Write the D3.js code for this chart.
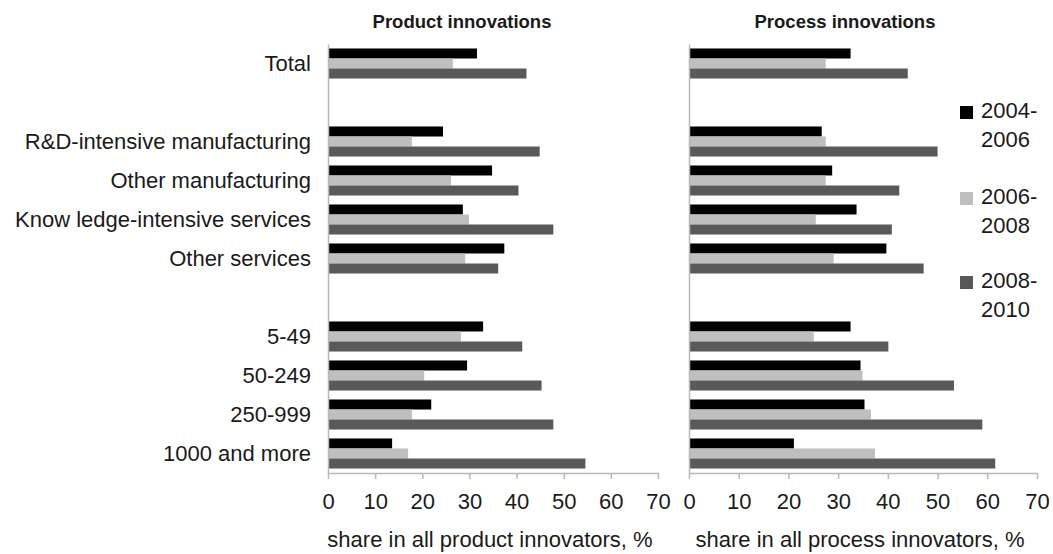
<!DOCTYPE html>
<html>
<head>
<meta charset="utf-8">
<script src="https://cdn.jsdelivr.net/npm/d3@7"></script>
<style>
  html, body { margin: 0; padding: 0; background: #fff; }
  svg { display: block; font-family: "Liberation Sans", Arial, sans-serif; }
</style>
</head>
<body>
<svg id="chart" width="1053" height="554"></svg>
<script>
// ---- data ----
const categories = ["Total", "R&D-intensive manufacturing", "Other manufacturing",
  "Know ledge-intensive services", "Other services", "5-49", "50-249", "250-999", "1000 and more"];
// row layout: category index, or null for an empty slot
const rowSlots = [0, null, 1, 2, 3, 4, null, 5, 6, 7, 8];
const seriesNames = ["2004-2006", "2006-2008", "2008-2010"];
const legendLines = [["2004-", "2006"], ["2006-", "2008"], ["2008-", "2010"]];
const seriesColors = ["#000000", "#bfbfbf", "#595959"];

const product2004 = [31.6, 24.4, 34.8, 28.6, 37.4, 32.9, 29.5, 21.9, 13.6];
const product2006 = [26.5, 17.8, 26.1, 29.9, 29.1, 28.2, 20.4, 17.8, 17.0];
const product2008 = [42.1, 44.9, 40.4, 47.8, 36.1, 41.2, 45.3, 47.8, 54.6];

const process2004 = [32.5, 26.7, 28.8, 33.7, 39.7, 32.5, 34.5, 35.3, 21.1];
const process2006 = [27.5, 27.5, 27.5, 25.5, 29.1, 25.1, 34.9, 36.6, 37.4];
const process2008 = [44.0, 50.0, 42.3, 40.8, 47.2, 40.1, 53.3, 59.0, 61.6];

const xTicks = [0, 10, 20, 30, 40, 50, 60, 70];
const panelTitles = ["Product innovations", "Process innovations"];
const axisTitles = ["share in all product innovators, %", "share in all process innovators, %"];

// ---- layout ----
const svg = d3.select("#chart");
const plotTop = 44, plotBottom = 473;
const axisColor = "#b8b8b8";
const textColor = "#1a1a1a";
const fontSize = 22;

const y = d3.scaleBand()
  .domain(rowSlots.map((d, i) => "r" + i))
  .range([plotTop, plotBottom])
  .paddingInner(0.23)
  .paddingOuter(0.115);
const ySub = d3.scaleBand().domain(seriesNames).range([0, y.bandwidth()]);

const panels = [
  { x0: 328, x1: 658, values: [product2004, product2006, product2008], labels: true,
    title: panelTitles[0], titleX: 462, axisTitle: axisTitles[0] },
  { x0: 689, x1: 1037, values: [process2004, process2006, process2008], labels: false,
    title: panelTitles[1], titleX: 845, axisTitle: axisTitles[1] }
];

panels.forEach(p => {
  const x = d3.scaleLinear().domain([0, 70]).range([p.x0, p.x1]);
  const g = svg.append("g");

  // bars
  rowSlots.forEach((ci, i) => {
    if (ci === null) return;
    seriesNames.forEach((s, si) => {
      g.append("rect")
        .attr("x", x(0))
        .attr("y", y("r" + i) + ySub(s))
        .attr("width", x(p.values[si][ci]) - x(0))
        .attr("height", ySub.bandwidth())
        .attr("fill", seriesColors[si]);
    });
  });

  // x axis
  const xAxis = d3.axisBottom(x).tickValues(xTicks).tickSizeInner(6).tickSizeOuter(0).tickPadding(14);
  const gx = svg.append("g").attr("transform", `translate(0,${plotBottom})`).call(xAxis);
  gx.select(".domain").attr("stroke", axisColor).attr("stroke-width", 1.5);
  gx.selectAll(".tick line").attr("stroke", axisColor).attr("stroke-width", 1.5);
  gx.selectAll(".tick text").attr("fill", textColor).attr("font-size", fontSize)
    .attr("font-family", "'Liberation Sans', Arial, sans-serif");

  // y axis
  const yAxis = d3.axisLeft(y)
    .tickValues(rowSlots.map((d, i) => d === null ? null : "r" + i).filter(d => d))
    .tickSize(0).tickPadding(17)
    .tickFormat(d => p.labels ? categories[rowSlots[+d.slice(1)]] : "");
  const gy = svg.append("g").attr("transform", `translate(${x(0)},0)`).call(yAxis);
  gy.select(".domain").attr("stroke", axisColor).attr("stroke-width", 1.5);
  gy.selectAll(".tick text").attr("fill", textColor).attr("font-size", fontSize)
    .attr("font-family", "'Liberation Sans', Arial, sans-serif");

  // titles
  svg.append("text")
    .attr("x", p.titleX).attr("y", 28)
    .attr("text-anchor", "middle")
    .attr("font-weight", "bold").attr("font-size", 18.5)
    .attr("fill", textColor)
    .text(p.title);
  svg.append("text")
    .attr("x", (p.x0 + p.x1) / 2 - 3).attr("y", 547)
    .attr("text-anchor", "middle")
    .attr("font-size", fontSize)
    .attr("fill", textColor)
    .text(p.axisTitle);
});

// legend
const legendTop = [118, 204, 288];
seriesNames.forEach((s, i) => {
  const g = svg.append("g");
  g.append("rect")
    .attr("x", 960).attr("y", legendTop[i] - 12)
    .attr("width", 13).attr("height", 13)
    .attr("fill", seriesColors[i]);
  legendLines[i].forEach((line, li) => {
    g.append("text")
      .attr("x", 981).attr("y", legendTop[i] + li * 29)
      .attr("font-size", fontSize)
      .attr("fill", textColor)
      .text(line);
  });
});
</script>
</body>
</html>
